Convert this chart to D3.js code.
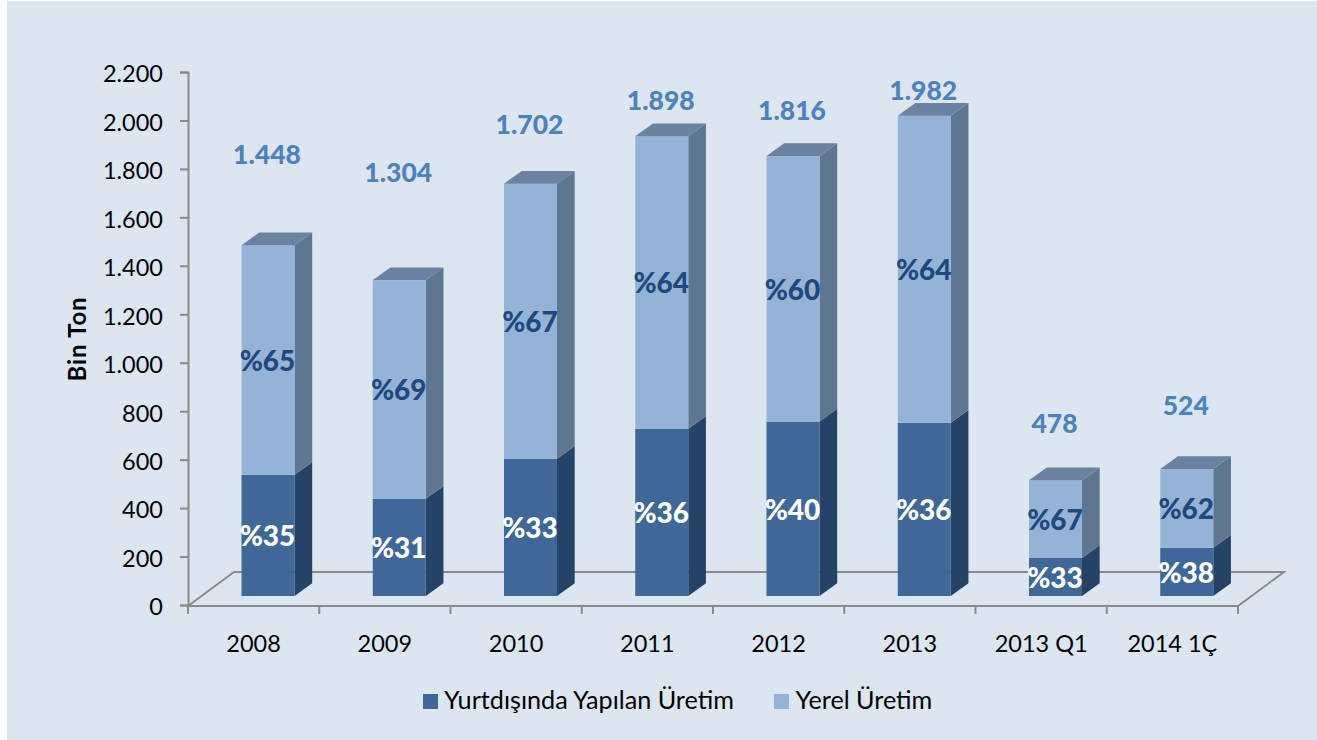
<!DOCTYPE html>
<html><head><meta charset="utf-8">
<script src="https://cdn.jsdelivr.net/npm/d3@7/dist/d3.min.js"></script>
<style>html,body{margin:0;padding:0;background:#fff}svg{display:block}text{font-family:Lato,"Open Sans",sans-serif}</style>
</head><body><script>
const categories=["2008","2009","2010","2011","2012","2013","2013 Q1","2014 1Ç"];
const imported=[500,401,567,690,720,715,157,199];
const local=[948,903,1135,1208,1096,1267,321,325];
const totals=["1.448","1.304","1.702","1.898","1.816","1.982","478","524"];
const totalLabelY=[1856,1784,1980,2082,2037,2122,748,820];
const pctImported=["%35","%31","%33","%36","%40","%36","%33","%38"];
const pctLocal=["%65","%69","%67","%64","%60","%64","%67","%62"];
const yTicks=[0,200,400,600,800,1000,1200,1400,1600,1800,2000,2200];
const seriesNames=["Yurtdışında Yapılan Üretim","Yerel Üretim"];

const W=1317,H=740;
const svg=d3.select("body").append("svg").attr("width",W).attr("height",H);
svg.append("rect").attr("x",7).attr("y",1).attr("width",W-7).attr("height",H-1).attr("fill","#dce6f1");
const y=d3.scaleLinear().domain([0,2200]).range([605,72]);
const x=d3.scaleBand().domain(categories).range([188,1238]);
const grey="#8a8a8a";
const dx=17.7,dy=12.7,barOff=53.5,barW=53,baseShift=9;
const floorDx=46,floorDy=34;
// floor
svg.append("path").attr("fill","none").attr("stroke",grey).attr("stroke-width",2)
 .attr("d",`M188,${y(0)+1}L${188+floorDx},${y(0)-floorDy+1}H${1238+floorDx}L1238,${y(0)+1}H188`);
// axes
const ya=d3.axisLeft(y).tickValues(yTicks).tickSize(8).tickFormat(d=>d3.format(",")(d).replace(/,/g,"."));
const gy=svg.append("g").attr("transform","translate(188,0)").call(ya);
const xa=d3.axisBottom(x).tickSize(0).tickPadding(29);
const gx=svg.append("g").attr("transform",`translate(0,${y(0)+1})`).call(xa);
gx.select(".domain").attr("stroke","none");
gx.selectAll(".tk").data(d3.range(categories.length+1)).enter().append("line").attr("class","tk")
 .attr("x1",i=>188+i*x.step()).attr("x2",i=>188+i*x.step()).attr("y1",0).attr("y2",8).attr("stroke",grey).attr("stroke-width",2);
[gy,gx].forEach(g=>{g.selectAll("text").attr("fill","#000").attr("font-size",23.5).attr("font-family","Lato");});
gy.selectAll("path.domain,line").attr("stroke",grey).attr("stroke-width",2);
gy.selectAll("text").attr("x",-25).attr("dy","0.42em");
svg.append("text").attr("transform","translate(86,339) rotate(-90)").attr("text-anchor","middle")
 .attr("font-size",24).attr("font-weight",700).attr("letter-spacing",0.8).attr("fill","#000").text("Bin Ton");
// bars
const h=v=>y(0)-y(v), base=y(0)-baseShift;
const cols=[{f:"#3f6797",s:"#254366",t:"#4a6f9c"},{f:"#95b3d7",s:"#5f7690",t:"#6b82a0"}];
const g=svg.append("g");
categories.forEach((c,i)=>{
  const X=x(c)+barOff;
  const b0=base-h(imported[i]), b1=b0-h(local[i]);
  [[base,b0,cols[0]],[b0,b1,cols[1]]].forEach(([yb,yt,col])=>{
    g.append("polygon").attr("fill",col.s)
     .attr("points",[[X+barW,yb],[X+barW+dx,yb-dy],[X+barW+dx,yt-dy],[X+barW,yt]].join(" "));
    g.append("rect").attr("x",X).attr("y",yt).attr("width",barW).attr("height",yb-yt).attr("fill",col.f);
  });
  g.append("polygon").attr("fill",cols[1].t)
   .attr("points",[[X,b1],[X+dx,b1-dy],[X+barW+dx,b1-dy],[X+barW,b1]].join(" "));
  const cx=X+barW/2;
  g.append("text").attr("x",cx-0.5).attr("y",(base+b0)/2+11).attr("text-anchor","middle").attr("font-size",28).attr("font-weight",900).attr("fill","#fff").text(pctImported[i]);
  g.append("text").attr("x",cx-0.5).attr("y",(b0+b1)/2+11).attr("text-anchor","middle").attr("font-size",28).attr("font-weight",900).attr("fill","#1f497d").text(pctLocal[i]);
  g.append("text").attr("x",cx-1).attr("y",y(totalLabelY[i])+9).attr("text-anchor","middle").attr("font-size",26.5).attr("font-weight",900).attr("fill","#4f81bd").text(totals[i]);
});
// legend
const lg=svg.append("g");
lg.append("rect").attr("x",423).attr("y",694).attr("width",15).attr("height",15).attr("fill",cols[0].f);
lg.append("text").attr("x",444).attr("y",708.5).attr("font-size",25.2).attr("fill","#000").text(seriesNames[0]);
lg.append("rect").attr("x",774).attr("y",694).attr("width",15).attr("height",15).attr("fill",cols[1].f);
lg.append("text").attr("x",795.5).attr("y",708.5).attr("font-size",25.2).attr("fill","#000").text(seriesNames[1]);
</script></body></html>
